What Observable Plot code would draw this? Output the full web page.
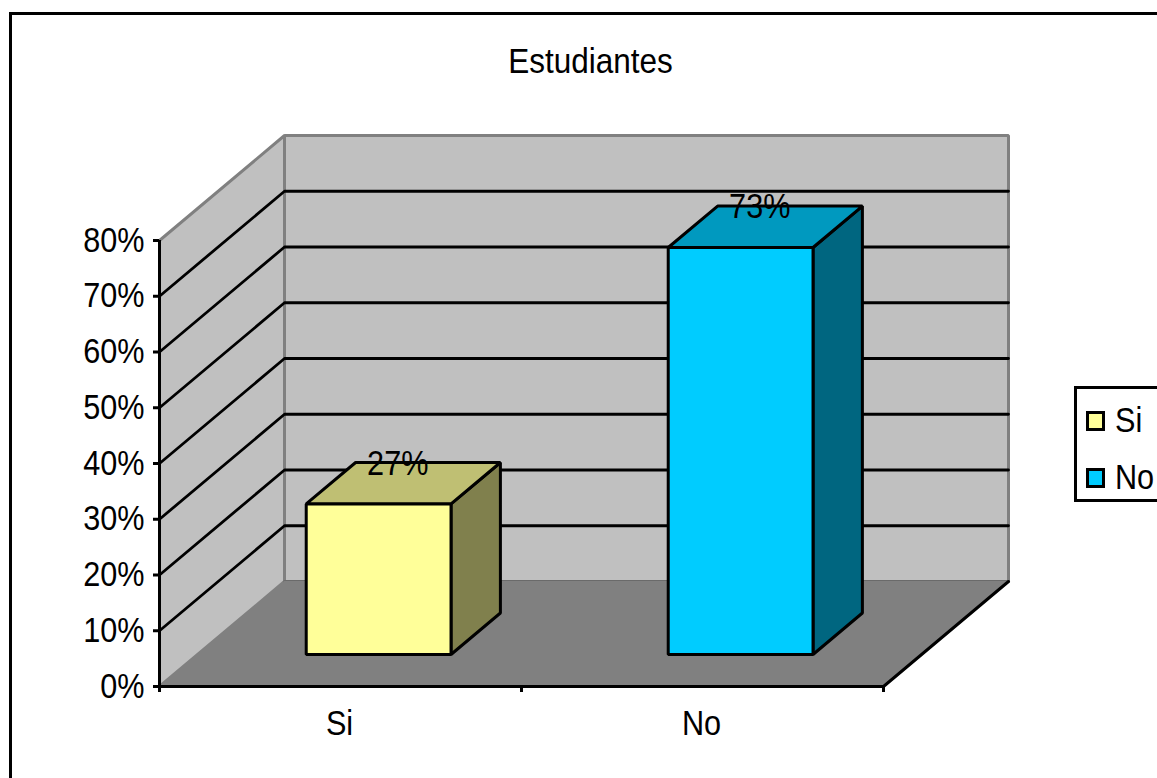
<!DOCTYPE html>
<html>
<head>
<meta charset="utf-8">
<script src="https://cdn.jsdelivr.net/npm/d3@7"></script>
<script src="https://cdn.jsdelivr.net/npm/@observablehq/plot@0.6"></script>
<style>
  html, body { margin: 0; padding: 0; background: #fff; }
  #page { position: relative; width: 1157px; height: 778px; overflow: hidden; font-family: "Liberation Sans", Arial, sans-serif; color: #000; }
  #page svg { position: absolute; left: 0; top: 0; }
  #frame { position: absolute; left: 9px; top: 12px; width: 1200px; height: 800px; border: 3px solid #000; box-sizing: border-box; }
  #title { position: absolute; left: 0; width: 1181px; top: 43px; text-align: center; font-size: 35px; line-height: 36px; }
  #title b { display: inline-block; font-weight: normal; transform: scaleX(0.9); }
  #legend { position: absolute; left: 1074px; top: 386px; width: 120px; height: 116px; border: 3px solid #000; box-sizing: border-box; background: #fff; }
  .row { position: absolute; left: 9px; height: 36px; font-size: 35px; line-height: 36px; white-space: nowrap; }
  .swatch { position: absolute; left: 0; top: 9px; width: 19px; height: 20px; border: 3px solid #000; box-sizing: border-box; }
  .row span { position: absolute; left: 29px; top: 0; transform: scaleX(0.875); transform-origin: left center; }
</style>
</head>
<body>
<div id="page">
  <div id="frame"></div>
  <div id="chart"></div>
  <div id="title"></div>
  <div id="legend"></div>
</div>
<script>
const chartTitle = "Estudiantes";
const categories = ["Si", "No"];
const values = [27, 73];
const frontColors = ["#FFFF99", "#00CCFF"];
const topColors = ["#BFBF73", "#0099BF"];
const sideColors = ["#80804D", "#006680"];
const yTicks = [0, 10, 20, 30, 40, 50, 60, 70, 80];
const gridValues = [10, 20, 30, 40, 50, 60, 70];
const categoryEdges = [0, 1, 2];
const categoryCentres = [0.5, 1.5];

// Depth of the 3-D box, in data units (one full depth step).
const depthX = 0.3453;
const depthY = 18.83;
const barWidth = 0.4;
const barDepth = [0.305, 0.7];
const yMax = 80;
const xMax = 2;
const textSize = 35;
const textSqueeze = 0.875;

const at = (x, y, d) => ({ x: x + d * depthX, y: y + d * depthY });
const face = (pts, fill, stroke, strokeWidth) =>
  Plot.line(pts, { x: "x", y: "y", curve: "linear-closed", fill, stroke, strokeWidth, strokeLinejoin: "miter" });

const marks = [];

// Walls and floor
marks.push(face([at(0, 0, 0), at(0, yMax, 0), at(0, yMax, 1), at(0, 0, 1)], "#C0C0C0", "#808080", 3));
marks.push(face([at(0, 0, 1), at(0, yMax, 1), at(xMax, yMax, 1), at(xMax, 0, 1)], "#C0C0C0", "#808080", 3));

// Gridlines
gridValues.forEach(v => {
  marks.push(Plot.line([at(0, v, 0), at(0, v, 1), at(xMax, v, 1)], { x: "x", y: "y", stroke: "#000", strokeWidth: 2.8 }));
});

marks.push(Plot.line([at(0, 0, 1), at(xMax, 0, 1)], { x: "x", y: "y", stroke: "#6A6A6A", strokeWidth: 3 }));
marks.push(face([at(0, 0, 0), at(xMax, 0, 0), at(xMax, 0, 1), at(0, 0, 1)], "#808080", "#808080", 1));
marks.push(Plot.line([at(xMax, 0, 0), at(xMax, 0, 1)], { x: "x", y: "y", stroke: "#000", strokeWidth: 3 }));

// Bars
categories.forEach((c, i) => {
  const l = categoryCentres[i] - barWidth / 2;
  const r = categoryCentres[i] + barWidth / 2;
  const v = values[i];
  const [d0, d1] = barDepth;
  marks.push(face([at(r, 0, d0), at(r, v, d0), at(r, v, d1), at(r, 0, d1)], sideColors[i], "#000", 3));
  marks.push(face([at(l, v, d0), at(r, v, d0), at(r, v, d1), at(l, v, d1)], topColors[i], "#000", 3));
  marks.push(face([at(l, 0, d0), at(r, 0, d0), at(r, v, d0), at(l, v, d0)], frontColors[i], "#000", 3));
});

// Data labels
marks.push(Plot.text(categories.map((c, i) => ({ ...at(categoryCentres[i], values[i], 0.45), label: values[i] + "%" })), {
  x: "x", y: "y", text: "label", fontSize: textSize, dy: -25, dx: 1, fill: "#000"
}));

// Front axis lines
marks.push(Plot.ruleX([0], { y1: 0, y2: yMax, stroke: "#000", strokeWidth: 3 }));
marks.push(Plot.ruleY([0], { x1: 0, x2: xMax, stroke: "#000", strokeWidth: 3 }));

// Axes
marks.push(Plot.axisY({ ticks: yTicks, tickSize: 6, tickPadding: 9, tickFormat: d => d + "%", fontSize: textSize, strokeWidth: 3, stroke: "#000", fill: "#000", label: null }));
marks.push(Plot.axisX({ ticks: categoryEdges, tickSize: 6, tickFormat: () => "", strokeWidth: 3, stroke: "#000", label: null }));
marks.push(Plot.axisX({ ticks: categoryCentres, tickSize: 0, tickPadding: 24, dx: -1, tickFormat: d => categories[categoryCentres.indexOf(d)], fontSize: textSize, fill: "#000", label: null }));

const plot = Plot.plot({
  width: 1157,
  height: 778,
  marginLeft: 159,
  marginRight: 274,
  marginTop: 240,
  marginBottom: 92,
  x: { domain: [0, xMax], axis: null },
  y: { domain: [0, yMax], axis: null },
  style: { fontFamily: "'Liberation Sans', Arial, sans-serif", background: "transparent", color: "#000", overflow: "visible" },
  marks
});
document.getElementById("chart").appendChild(plot);

// The reference's lettering is slightly condensed: narrow each text to match.
plot.querySelectorAll("text").forEach(t => {
  if (!t.textContent) return;
  t.setAttribute("textLength", t.getComputedTextLength() * textSqueeze);
  t.setAttribute("lengthAdjust", "spacingAndGlyphs");
});

const titleInner = document.createElement("b");
titleInner.textContent = chartTitle;
document.getElementById("title").appendChild(titleInner);
const legend = document.getElementById("legend");
const legendTops = [13, 70];
categories.forEach((c, i) => {
  const row = document.createElement("div");
  row.className = "row";
  row.style.top = legendTops[i] + "px";
  const sw = document.createElement("div");
  sw.className = "swatch";
  sw.style.background = frontColors[i];
  const tx = document.createElement("span");
  tx.textContent = c;
  row.append(sw, tx);
  legend.appendChild(row);
});
</script>
</body>
</html>
